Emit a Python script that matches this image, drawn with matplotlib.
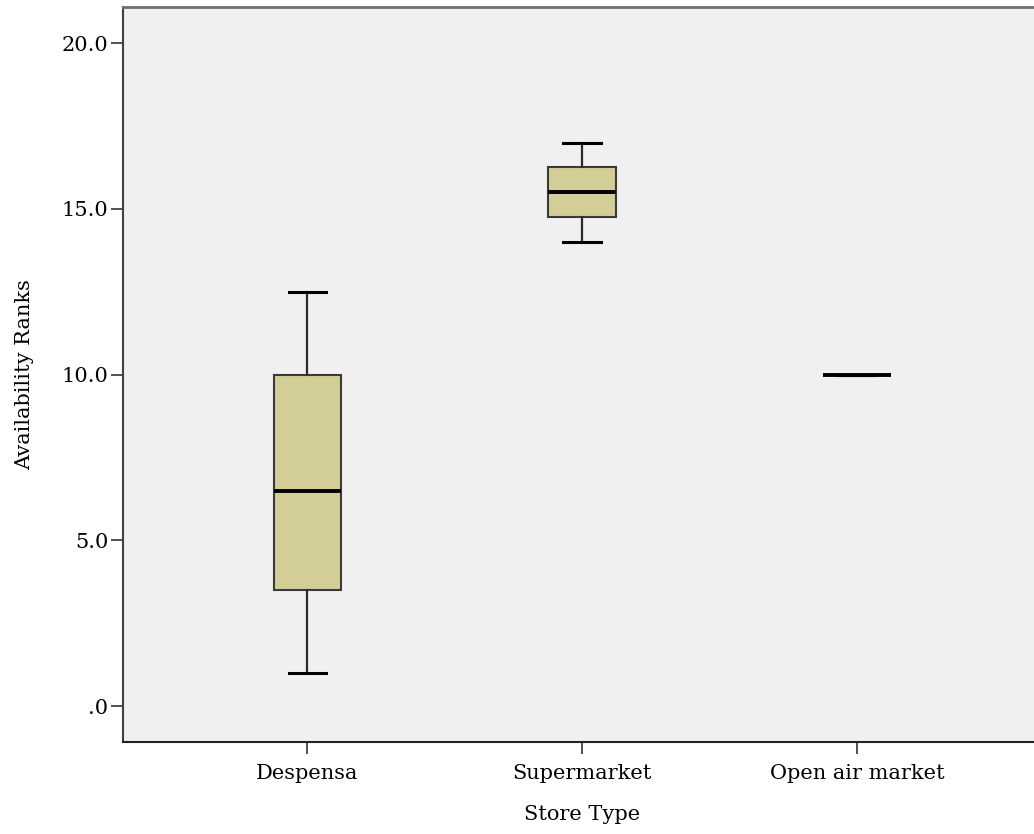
import numpy as np
import matplotlib
matplotlib.use('Agg')
import matplotlib.pyplot as plt
from matplotlib.ticker import FuncFormatter

plt.rcParams['font.family'] = ['DejaVu Serif']

# box stats
categories = ['Despensa', 'Supermarket', 'Open air market']
whislo = [1.0, 14.0, 10.0]
q1 = [3.5, 14.75, 10.0]
med = [6.5, 15.5, 10.0]
q3 = [10.0, 16.25, 10.0]
whishi = [12.5, 17.0, 10.0]

stats = []
for i in range(len(categories)):
    stats.append({'label': categories[i], 'whislo': whislo[i], 'q1': q1[i],
                  'med': med[i], 'q3': q3[i], 'whishi': whishi[i], 'fliers': []})

fig = plt.figure(figsize=(10.34, 8.34), dpi=100)
ax = fig.add_axes([0.119, 0.110, 1.0068 - 0.119, 0.9916 - 0.110])
ax.set_facecolor('#F0F0F0')

ax.bxp(stats, positions=[1, 2, 3], widths=0.245, patch_artist=True, showfliers=False,
       boxprops=dict(facecolor='#D3CE97', edgecolor='#3A3A3A', linewidth=1.5),
       medianprops=dict(color='black', linewidth=2.8),
       whiskerprops=dict(color='#2A2A2A', linewidth=1.6),
       capprops=dict(color='black', linewidth=2.2),
       capwidths=0.135)

ax.set_xlim(0.33, 3.67)
ax.set_ylim(-1.09, 21.09)
ax.set_yticks([0, 5, 10, 15, 20])
ax.yaxis.set_major_formatter(FuncFormatter(lambda v, p: '.0' if v == 0 else '%.1f' % v))
ax.set_xticks([1, 2, 3])
ax.set_xticklabels(categories)

ax.tick_params(axis='both', direction='out', length=8.5, width=1.2, color='#333333',
               labelsize=15, pad=2)
ax.tick_params(axis='x', pad=7)

ax.spines['right'].set_visible(False)
ax.spines['top'].set_color('#707070')
ax.spines['top'].set_linewidth(2)
ax.spines['left'].set_color('#404040')
ax.spines['left'].set_linewidth(1.5)
ax.spines['bottom'].set_color('#222222')
ax.spines['bottom'].set_linewidth(1.5)

ax.set_xlabel('Store Type', fontsize=15, labelpad=16)
ax.set_ylabel('Availability Ranks', fontsize=15, labelpad=20)

fig.savefig('out.png', dpi=100)
